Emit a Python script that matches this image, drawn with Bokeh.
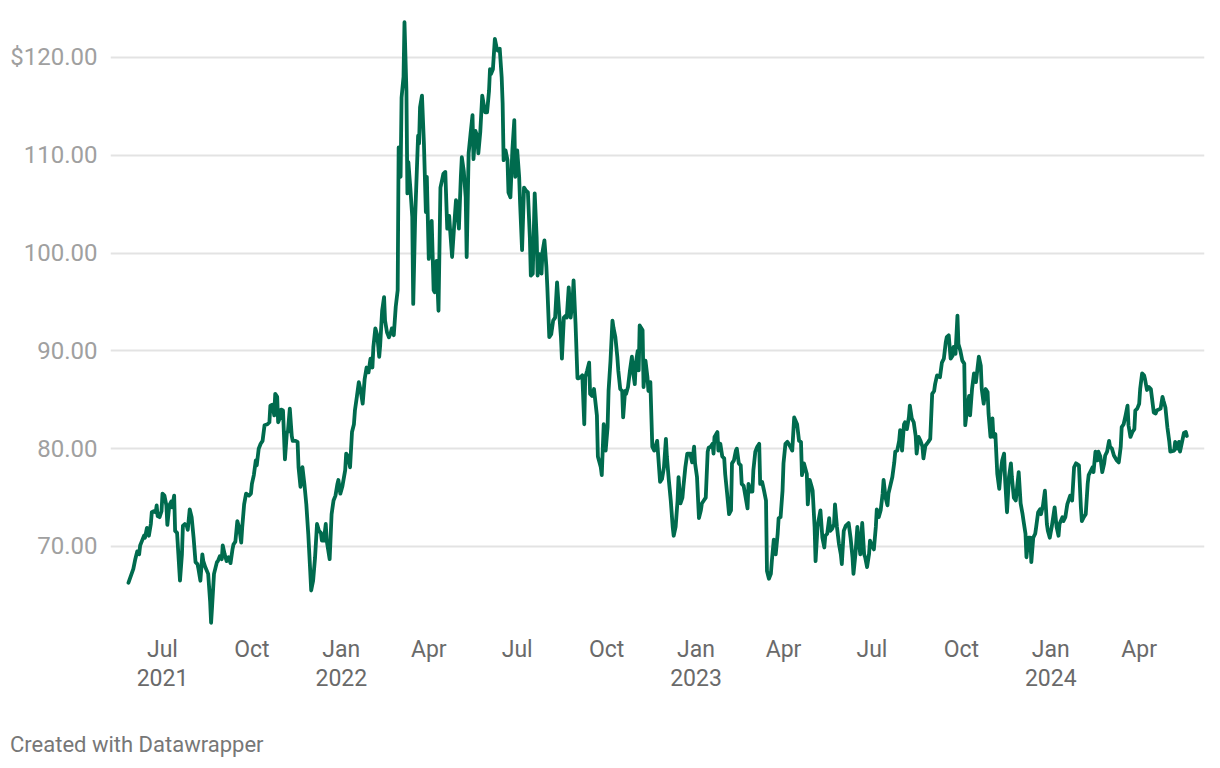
import pandas as pd
from bokeh.plotting import figure
from bokeh.models import FixedTicker, Range1d, Div
from bokeh.layouts import column
from bokeh.embed import file_html
from bokeh.resources import INLINE

start_date = "2021-05-27"

day_offsets = [
    0, 5, 7, 9, 11, 12, 14, 16, 17, 19, 21, 23, 24, 26, 28, 29, 30, 32, 34, 35,
    37, 39, 40, 42, 44, 45, 47, 48, 50, 53, 55, 56, 58, 60, 61, 63, 65, 67, 69, 71,
    72, 74, 76, 77, 79, 82, 84, 85, 86, 88, 91, 92, 94, 96, 97, 99, 101, 103, 105, 107,
    108, 110, 112, 114, 116, 117, 119, 121, 124, 126, 127, 129, 131, 132, 134, 136, 138, 140, 143, 145,
    146, 148, 150, 151, 153, 154, 156, 157, 159, 161, 163, 164, 166, 168, 169, 172, 174, 175, 177, 178,
    179, 181, 183, 185, 187, 188, 190, 192, 194, 196, 198, 199, 201, 203, 204, 207, 209, 211, 213, 215,
    216, 218, 220, 223, 224, 226, 228, 230, 232, 233, 235, 237, 239, 241, 243, 245, 247, 249, 251, 252,
    254, 256, 258, 259, 261, 263, 264, 266, 268, 270, 271, 273, 275, 277, 278, 280, 281, 283, 284, 286,
    287, 288, 290, 292, 293, 295, 298, 299, 300, 302, 304, 306, 307, 309, 311, 312, 314, 315, 317, 319,
    321, 323, 324, 326, 328, 330, 331, 333, 335, 337, 338, 340, 342, 343, 345, 347, 348, 350, 352, 354,
    355, 357, 359, 360, 362, 364, 366, 367, 369, 371, 372, 373, 375, 377, 379, 380, 382, 384, 385, 386,
    388, 390, 391, 393, 395, 397, 398, 400, 402, 403, 405, 407, 409, 411, 413, 414, 416, 418, 420, 421,
    423, 425, 426, 428, 430, 431, 433, 435, 437, 439, 441, 443, 445, 446, 448, 450, 451, 453, 455, 457,
    458, 460, 462, 463, 465, 467, 469, 470, 472, 474, 475, 477, 479, 482, 483, 486, 487, 489, 491, 493,
    494, 496, 498, 499, 501, 503, 504, 506, 508, 509, 511, 512, 514, 516, 518, 519, 521, 522, 524, 525,
    526, 529, 530, 532, 534, 535, 537, 539, 541, 544, 547, 549, 551, 553, 554, 556, 558, 560, 561, 563,
    565, 566, 568, 570, 571, 573, 575, 578, 580, 582, 583, 585, 587, 589, 590, 592, 594, 596, 597, 599,
    601, 602, 603, 606, 607, 609, 611, 613, 614, 616, 618, 620, 621, 623, 625, 626, 628, 630, 631, 633,
    637, 638, 640, 642, 643, 645, 647, 649, 650, 652, 654, 656, 657, 659, 661, 662, 664, 666, 668, 669,
    671, 673, 674, 676, 678, 681, 683, 685, 688, 690, 692, 693, 695, 698, 699, 701, 703, 704, 706, 707,
    709, 710, 712, 714, 716, 717, 719, 721, 722, 724, 726, 727, 729, 731, 733, 734, 736, 738, 741, 743,
    745, 746, 748, 750, 751, 753, 755, 757, 758, 760, 762, 763, 765, 767, 769, 770, 772, 774, 776, 777,
    779, 781, 782, 786, 788, 789, 791, 793, 794, 796, 798, 799, 801, 803, 804, 806, 808, 810, 811, 813,
    815, 817, 818, 820, 823, 825, 827, 829, 830, 832, 835, 837, 839, 841, 842, 844, 846, 848, 849, 851,
    853, 854, 856, 858, 860, 861, 863, 865, 866, 868, 870, 872, 875, 877, 878, 880, 882, 884, 885, 887,
    889, 890, 892, 894, 896, 897, 899, 901, 902, 904, 906, 908, 909, 911, 913, 916, 918, 920, 921, 923,
    924, 926, 928, 929, 931, 933, 934, 936, 938, 939, 941, 943, 945, 946, 948, 950, 953, 955, 957, 958,
    961, 962, 964, 966, 969, 971, 973, 975, 978, 980, 981, 983, 985, 987, 988, 992, 993, 995, 997, 998,
    1000, 1002, 1004, 1005, 1007, 1009, 1010, 1012, 1014, 1017, 1019, 1021, 1022, 1024, 1026, 1028, 1029, 1031, 1033, 1035,
    1036, 1038, 1040, 1041, 1043, 1045, 1046, 1048, 1050, 1052, 1055, 1057, 1058, 1062, 1064, 1065, 1067, 1069, 1071, 1072,
    1076, 1077, 1079, 1081, 1082, 1086, 1088, 1089,
]

prices = [
    66.3, 67.7, 68.7, 69.5, 69.2, 70.1, 70.6, 71.1, 70.9, 71.9, 71.1, 72.3, 73.5, 73.6, 73.5, 74.2, 73.1, 73.0, 73.6, 75.4,
    75.2, 74.2, 72.2, 74.2, 74.6, 74.0, 75.2, 71.6, 71.4, 66.5, 69.2, 72.1, 72.3, 72.1, 71.7, 73.8, 73.0, 70.9, 68.4, 68.2,
    67.7, 66.5, 69.2, 68.5, 67.9, 67.2, 64.4, 62.2, 63.8, 67.2, 68.4, 68.5, 69.0, 68.7, 70.1, 69.2, 68.5, 68.9, 68.3, 69.7,
    70.2, 70.5, 72.6, 71.9, 70.4, 71.9, 74.3, 75.4, 75.2, 75.4, 76.4, 77.3, 78.8, 78.3, 80.0, 80.5, 80.8, 82.4, 82.5, 82.7,
    84.4, 84.5, 83.4, 85.6, 85.3, 82.7, 83.2, 84.0, 83.9, 78.9, 81.7, 81.7, 84.1, 81.3, 80.8, 80.8, 80.7, 78.1, 76.1, 76.8,
    78.1, 76.4, 74.3, 71.3, 67.5, 65.5, 66.5, 68.9, 72.3, 71.6, 71.4, 70.6, 70.6, 72.3, 70.6, 68.7, 73.3, 74.7, 75.2, 76.4,
    76.8, 75.4, 76.1, 77.8, 79.5, 79.2, 78.1, 81.7, 82.5, 83.9, 85.3, 86.8, 85.9, 84.6, 87.1, 88.3, 87.8, 89.2, 88.3, 90.4,
    92.3, 91.6, 89.4, 90.6, 94.1, 95.5, 93.1, 91.9, 91.4, 91.9, 92.3, 91.6, 94.5, 96.2, 110.8, 107.8, 115.9, 118.0, 123.6, 116.6,
    106.1, 109.3, 106.7, 103.7, 94.8, 103.7, 112.0, 111.2, 114.9, 116.1, 111.2, 104.2, 107.8, 99.4, 101.0, 103.3, 96.2, 96.0, 99.2, 94.1,
    106.7, 107.6, 108.1, 108.3, 102.5, 103.8, 102.3, 99.6, 102.6, 105.4, 105.0, 102.5, 107.8, 109.8, 108.4, 105.7, 99.6, 110.2, 112.2, 114.1,
    109.6, 112.5, 111.9, 110.2, 112.4, 116.1, 114.9, 114.4, 114.4, 116.6, 118.8, 118.3, 118.8, 121.9, 120.9, 120.7, 120.9, 118.0, 115.3, 109.5,
    110.5, 109.5, 106.2, 105.7, 110.5, 113.6, 107.8, 110.5, 107.8, 105.0, 100.3, 106.7, 106.4, 106.2, 101.6, 97.7, 97.9, 106.1, 101.6, 97.7,
    99.9, 97.9, 100.1, 101.3, 98.6, 96.5, 91.4, 91.7, 93.1, 93.4, 97.0, 94.1, 91.4, 89.2, 93.4, 93.6, 93.4, 96.5, 93.4, 95.2,
    97.2, 92.8, 87.2, 87.2, 87.3, 87.5, 82.5, 87.3, 88.0, 88.8, 85.6, 85.4, 86.1, 83.4, 79.2, 78.1, 77.3, 82.5, 79.8, 82.2,
    85.9, 89.0, 93.1, 92.4, 91.4, 89.4, 88.0, 86.1, 85.9, 83.2, 85.9, 85.6, 86.3, 88.0, 89.4, 88.0, 86.6, 88.7, 90.0, 88.0,
    92.6, 92.1, 86.3, 89.0, 87.3, 85.9, 86.8, 80.2, 79.8, 80.8, 76.6, 76.9, 78.1, 81.0, 79.2, 76.8, 74.7, 72.0, 71.1, 72.0,
    74.7, 77.1, 74.4, 75.0, 76.1, 78.1, 79.5, 79.5, 78.6, 80.2, 78.5, 77.1, 72.9, 73.7, 74.4, 74.7, 75.0, 79.7, 80.1, 80.2,
    80.5, 79.5, 81.2, 81.7, 79.8, 80.5, 79.2, 79.0, 77.4, 75.4, 73.3, 73.7, 78.5, 78.8, 79.8, 80.0, 78.5, 78.3, 76.4, 76.2,
    73.9, 76.4, 75.6, 75.6, 77.8, 79.7, 80.2, 80.5, 76.4, 76.6, 75.7, 74.7, 67.5, 66.7, 67.2, 68.5, 70.7, 69.2, 71.3, 72.9,
    73.0, 75.7, 78.5, 80.5, 80.7, 80.2, 79.8, 83.2, 82.5, 80.8, 80.7, 77.3, 78.5, 77.4, 74.3, 76.8, 76.1, 75.7, 72.0, 68.5,
    72.0, 72.6, 73.7, 70.9, 69.9, 71.1, 71.3, 72.9, 71.6, 71.8, 72.3, 74.3, 72.0, 70.3, 69.2, 68.2, 71.6, 72.1, 72.4, 70.9,
    68.9, 67.2, 69.2, 72.0, 70.9, 69.2, 72.4, 69.2, 68.9, 67.9, 69.2, 70.6, 70.1, 69.7, 72.0, 73.8, 73.0, 73.7, 75.4, 76.8,
    75.0, 74.2, 75.4, 77.1, 78.6, 79.7, 79.8, 80.8, 81.9, 79.8, 82.5, 82.7, 82.0, 83.2, 84.4, 83.1, 82.7, 81.3, 79.5, 81.2,
    80.8, 80.2, 79.0, 80.3, 80.7, 81.0, 85.6, 85.9, 86.6, 87.5, 87.3, 88.8, 89.2, 90.9, 91.4, 91.6, 89.2, 89.5, 90.4, 89.7,
    93.6, 90.7, 90.0, 89.0, 88.7, 82.4, 84.1, 85.4, 83.4, 86.1, 87.7, 86.8, 89.4, 88.5, 86.1, 84.6, 86.1, 85.8, 83.6, 81.2,
    83.1, 81.2, 81.5, 77.4, 75.9, 77.1, 78.8, 79.5, 76.9, 73.5, 77.1, 78.5, 77.1, 75.0, 74.7, 77.6, 74.4, 73.3, 72.6, 71.3,
    68.9, 70.9, 70.9, 68.4, 70.9, 71.3, 72.0, 73.5, 73.8, 73.3, 74.2, 75.7, 72.3, 71.6, 70.9, 72.0, 74.0, 72.0, 71.1, 72.3,
    73.0, 72.6, 73.0, 74.3, 75.2, 74.7, 78.1, 78.5, 78.3, 74.0, 72.6, 73.0, 73.3, 76.4, 77.3, 78.1, 77.6, 79.7, 78.8, 79.7,
    79.2, 77.6, 78.5, 79.3, 79.7, 80.8, 80.2, 80.0, 79.3, 78.8, 78.6, 80.2, 82.2, 82.5, 83.4, 84.4, 82.4, 81.2, 81.7, 82.0,
    83.9, 84.1, 84.6, 86.1, 87.7, 87.5, 87.1, 86.0, 86.3, 86.1, 83.7, 83.6, 83.9, 84.1, 85.3, 84.9, 84.2, 82.2, 80.7, 79.7,
    79.8, 80.7, 80.0, 80.7, 79.7, 81.6, 81.7, 81.3,
]

tick_dates = ["2021-07-01", "2021-10-01", "2022-01-01", "2022-04-01", "2022-07-01", "2022-10-01",
              "2023-01-01", "2023-04-01", "2023-07-01", "2023-10-01", "2024-01-01", "2024-04-01"]
tick_labels = ["Jul\n2021", "Oct", "Jan\n2022", "Apr", "Jul", "Oct",
               "Jan\n2023", "Apr", "Jul", "Oct", "Jan\n2024", "Apr"]
y_ticks = [70, 80, 90, 100, 110, 120]
y_labels = ["70.00", "80.00", "90.00", "100.00", "110.00", "$120.00"]
footer_text = "Created with Datawrapper"

start = pd.Timestamp(start_date)
dates = [start + pd.Timedelta(days=d) for d in day_offsets]
tick_ms = [int(pd.Timestamp(d).timestamp() * 1000) for d in tick_dates]

p = figure(width=1212, height=732, x_axis_type="datetime",
           x_range=Range1d(start - pd.Timedelta(days=18.5), start + pd.Timedelta(days=1107.2)),
           y_range=Range1d(61.41, 124.29),
           output_backend="svg", toolbar_location=None,
           min_border_left=110, min_border_right=8, min_border_top=15, min_border_bottom=102)
p.outline_line_color = None
p.background_fill_color = "white"
p.border_fill_color = "white"

p.line(dates, prices, line_color="#006b4e", line_width=3.8, line_join="round", line_cap="round")

p.xgrid.visible = False
p.ygrid.grid_line_color = "#e3e3e3"
p.ygrid.grid_line_width = 2

p.yaxis.ticker = FixedTicker(ticks=y_ticks)
p.yaxis.major_label_overrides = dict(zip(y_ticks, y_labels))
p.yaxis.axis_line_color = None
p.yaxis.major_tick_line_color = None
p.yaxis.minor_tick_line_color = None
p.yaxis.major_tick_out = 0
p.yaxis.major_tick_in = 0
p.yaxis.major_label_text_font = "Roboto"
p.yaxis.major_label_text_font_size = "24px"
p.yaxis.major_label_text_color = "#a0a0a0"
p.yaxis.major_label_standoff = 13

p.xaxis.ticker = FixedTicker(ticks=tick_ms)
p.xaxis.major_label_overrides = dict(zip(tick_ms, tick_labels))
p.xaxis.axis_line_color = None
p.xaxis.major_tick_line_color = None
p.xaxis.minor_tick_line_color = None
p.xaxis.major_tick_out = 0
p.xaxis.major_tick_in = 0
p.xaxis.major_label_text_font = "Roboto"
p.xaxis.major_label_text_font_size = "23px"
p.xaxis.major_label_text_line_height = 1.1
p.xaxis.major_label_text_color = "#6a6a6a"
p.xaxis.major_label_standoff = 5

footer = Div(text=footer_text, width=1212, height=30, margin=(0, 0, 0, 0),
             styles={"font-family": "Roboto", "font-size": "22px", "color": "#777777",
                     "padding-left": "10px", "line-height": "26px"})

layout = column(p, footer, spacing=0)
open("out.html", "w").write(file_html(layout, INLINE))
